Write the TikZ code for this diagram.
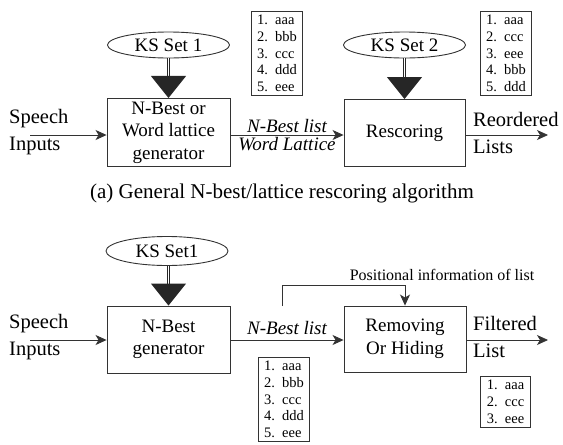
\documentclass[tikz,border=0pt]{standalone}
\usepackage{fontspec}
\setmainfont{Liberation Serif}
\usetikzlibrary{arrows.meta, shapes.geometric, positioning}

\tikzset{
  block/.style={draw=black!80, line width=0.9pt, minimum width=123pt, minimum height=67pt, align=center, font=\fontsize{19}{22.5}\selectfont},
  ksset/.style={draw=black!80, ellipse, line width=0.9pt, minimum width=122pt, minimum height=26pt, inner sep=0pt, font=\fontsize{19}{22}\selectfont},
  listbox/.style={draw=black!80, line width=0.9pt, align=left, font=\fontsize{14.5}{16.7}\selectfont, inner xsep=6pt, inner ysep=4pt},
  flow/.style={draw=black!80, line width=0.8pt, -{Stealth[length=11pt,width=10pt,inset=3pt]}},
  kslink/.style={draw=black!85, double=white, double distance=1.6pt, line width=0.9pt, -{Triangle[length=22pt,width=35pt]}},
  iotext/.style={align=left, font=\fontsize{20.5}{27}\selectfont, inner sep=0pt},
  flowlbl/.style={font=\itshape\fontsize{19}{22}\selectfont, inner sep=2pt}
}

\begin{document}
\begin{tikzpicture}[x=1pt, y=-1pt]
  \useasboundingbox (0,0) rectangle (563,445);

  % (a) rescoring
  \node[ksset] (ks1) at (168.5,45) {KS Set 1};
  \node[block] (gen1) at (168.5,132.5) {N-Best or\\Word lattice\\generator};
  \node[ksset] (ks2) at (404.5,45) {KS Set 2};
  \node[block, minimum width=121pt] (resc) at (404.5,133) {Rescoring};
  \node[listbox] (list1) at (277,53.5) {1.\enspace aaa\\2.\enspace bbb\\3.\enspace ccc\\4.\enspace ddd\\5.\enspace eee};
  \node[listbox] (list2) at (506,53.5) {1.\enspace aaa\\2.\enspace ccc\\3.\enspace eee\\4.\enspace bbb\\5.\enspace ddd};

  \node[iotext, anchor=west] (in1) at (9,132) {Speech\\Inputs};
  \node[iotext, anchor=west] (out1) at (473,133) {Reordered\\Lists};
  \coordinate (src1) at (30,135);
  \coordinate (end1) at (548,135);

  \draw[kslink] (ks1) -- (gen1);
  \draw[kslink] (ks2) -- (resc);
  \draw[flow] (src1) -- (src1 -| gen1.west);
  \draw[flow] (gen1.east |- src1) -- (resc.west |- src1)
    node[flowlbl, midway, above] {N-Best list}
    node[flowlbl, midway, below] {Word Lattice};
  \draw[flow] (resc.east |- end1) -- (end1);

  \node[font=\fontsize{21}{24}\selectfont] (capa) at (282,193) {(a) General N-best/lattice rescoring algorithm};

  % removing / hiding
  \node[ksset, minimum height=29pt] (ks3) at (167,251) {KS Set1};
  \node[block] (gen2) at (168.5,339.5) {N-Best\\generator};
  \node[block, minimum width=122pt, minimum height=66pt] (filt) at (405,339) {Removing\\Or Hiding};
  \node[listbox] (list3) at (284,399.5) {1.\enspace aaa\\2.\enspace bbb\\3.\enspace ccc\\4.\enspace ddd\\5.\enspace eee};
  \node[listbox] (list4) at (505.5,402) {1.\enspace aaa\\2.\enspace ccc\\3.\enspace eee};

  \node[iotext, anchor=west] (in2) at (9,337) {Speech\\Inputs};
  \node[iotext, anchor=west] (out2) at (473,337) {Filtered\\List};
  \node[font=\fontsize{16}{19}\selectfont] (posinfo) at (442,275) {Positional information of list};
  \coordinate (src2) at (30,340);
  \coordinate (end2) at (548,340);
  \coordinate (tap) at (282,306);

  \draw[kslink] (ks3.south -| gen2) -- (gen2);
  \draw[flow] (src2) -- (src2 -| gen2.west);
  \draw[flow] (gen2.east |- src2) -- (filt.west |- src2)
    node[flowlbl, pos=0.5, above=3pt] (nbl2) {N-Best list};
  \draw[flow] (tap) -- ++(0,-21) -| (filt.north);
  \draw[flow] (filt.east |- end2) -- (end2);
\end{tikzpicture}
\end{document}
